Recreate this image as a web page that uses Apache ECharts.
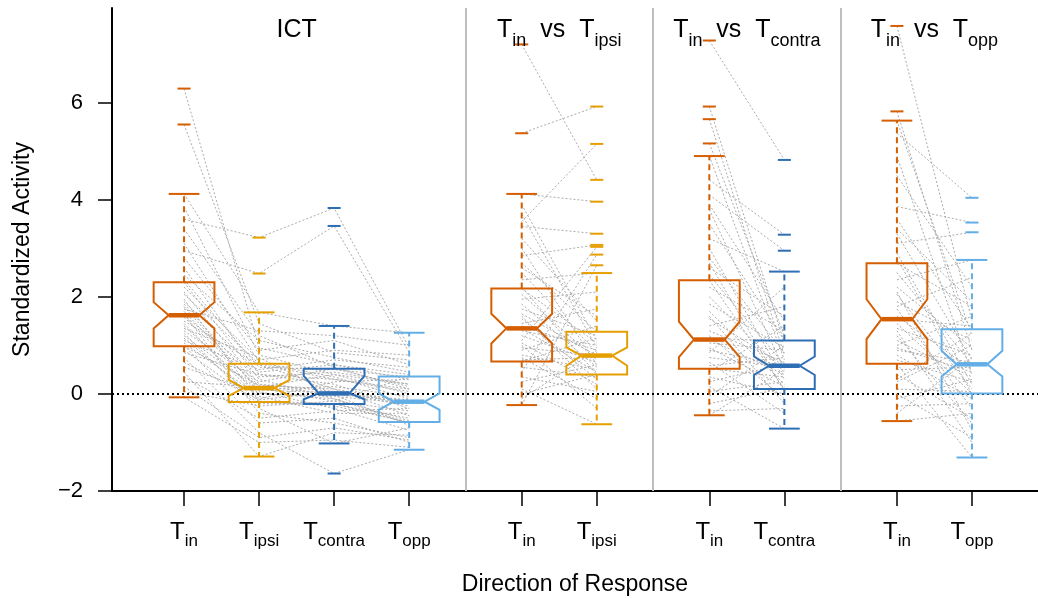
<!DOCTYPE html>
<html><head><meta charset="utf-8">
<script src="https://cdn.jsdelivr.net/npm/echarts@6/dist/echarts.min.js"></script>
<style>html,body{margin:0;padding:0;background:#fff}#chart{width:1038px;height:598px}</style>
</head><body><div id="chart"></div>
<script>
// ---------- data ----------
const conditionSubs = ['in', 'ipsi', 'contra', 'opp'];
const conditionColors = ['#D55E00', '#E69F00', '#2E6EB5', '#63AEE6'];
const panelTitles = ['ICT', 'T_in vs T_ipsi', 'T_in vs T_contra', 'T_in vs T_opp'];
const panelConditions = [[0, 1, 2, 3], [0, 1], [0, 2], [0, 3]];
const yTickValues = [-2, 0, 2, 4, 6];
const yAxisTitle = 'Standardized Activity';
const xAxisTitle = 'Direction of Response';

// box stats: [lowerWhisker, q1, notchLow, median, notchHigh, q3, upperWhisker]
const ictBoxStats = [
  [-0.07, 0.98, 1.35, 1.62, 1.89, 2.30, 4.12],
  [-1.29, -0.165, -0.04, 0.12, 0.29, 0.62, 1.68],
  [-1.02, -0.21, -0.11, 0.01, 0.37, 0.52, 1.40],
  [-1.15, -0.58, -0.33, -0.16, 0.01, 0.36, 1.26]
];
const ipsiBoxStats = [
  [-0.23, 0.67, 1.04, 1.35, 1.65, 2.17, 4.12],
  [-0.625, 0.40, 0.58, 0.79, 0.96, 1.28, 2.49]
];
const contraBoxStats = [
  [-0.44, 0.52, 0.76, 1.12, 1.49, 2.34, 4.90],
  [-0.715, 0.10, 0.39, 0.58, 0.77, 1.10, 2.52]
];
const oppBoxStats = [
  [-0.56, 0.62, 1.13, 1.54, 1.95, 2.69, 5.63],
  [-1.31, 0.01, 0.36, 0.61, 0.89, 1.33, 2.76]
];
const ictOutliers = [[6.29, 5.55], [3.22, 2.48], [3.83, 3.46, -1.64], []];
const ipsiOutliers = [[7.20, 5.37], [5.92, 5.15, 4.41, 3.96, 3.30, 3.07, 3.03, 2.87, 2.65]];
const contraOutliers = [[7.28, 5.92, 5.66, 5.16], [4.82, 3.28, 2.95]];
const oppOutliers = [[7.58, 5.82], [4.04, 3.53, 3.33]];

// paired neuron values: ICT rows [Tin, Tipsi, Tcontra, Topp]
const ictPaired = [
  [6.29, 0.95, 0.60, 0.30], [5.55, 1.45, 0.85, 0.70], [4.12, 1.68, 1.40, 1.26], [3.85, 0.80, 0.40, 0.20],
  [3.60, 3.22, 3.83, 0.95], [3.40, 1.20, 0.55, 0.10], [3.10, 0.65, 0.35, -0.10], [2.95, 2.48, 3.46, 0.85],
  [2.80, 0.90, 1.10, 0.60], [2.60, 0.40, 0.20, -0.30], [2.45, 1.10, 0.75, 0.45], [2.35, 0.55, 0.50, 0.35],
  [2.30, 0.30, -0.10, -0.55], [2.20, 0.70, 0.90, 0.80], [2.10, 0.20, 0.05, -0.20], [2.05, 0.62, 0.30, 0.05],
  [1.95, -0.15, -0.20, -0.60], [1.90, 0.45, 0.60, 0.40], [1.85, 0.15, 0.00, -0.15], [1.80, 0.05, -0.30, -0.75],
  [1.75, 1.30, 1.20, 1.00], [1.70, 0.10, 0.15, -0.05], [1.65, -0.40, -0.60, -0.90], [1.62, 0.35, 0.45, 0.20],
  [1.58, 0.12, -0.15, -0.35], [1.50, 0.60, 0.10, -0.45], [1.45, -0.10, 0.25, 0.30], [1.40, 0.00, -0.05, -0.20],
  [1.30, 0.25, 0.52, 0.15], [1.25, -0.30, -1.02, -0.70], [1.20, 0.08, 0.02, -0.12], [1.15, -0.16, -0.25, -0.58],
  [1.10, 0.50, 0.70, 0.55], [1.05, -0.05, -0.40, -0.40], [1.00, -0.60, -0.50, -1.00], [0.98, 0.18, 0.10, -0.16],
  [0.90, -0.20, -0.21, -0.50], [0.85, 0.40, 0.30, 0.10], [0.75, -0.80, -1.64, -1.15], [0.65, -0.12, 0.05, -0.25],
  [0.55, 0.02, -0.10, -0.60], [0.45, -1.29, -0.80, -0.85], [0.35, -0.50, -0.35, -0.30], [0.25, 0.14, 0.40, 0.00],
  [0.15, -0.90, -0.70, -0.95], [0.05, -0.25, -0.15, 0.36], [-0.07, -1.00, -0.95, -1.10], [1.35, 0.75, -0.02, -0.65]
];
// [Tin, Tipsi]
const ipsiPaired = [
  [7.20, 4.41], [5.37, 5.92], [3.55, 5.15], [4.12, 3.96], [3.90, 1.10], [3.70, 0.95], [3.45, 3.30], [3.20, 1.50],
  [3.00, 0.60], [2.85, 3.07], [2.70, 1.28], [2.50, 0.85], [2.35, 2.49], [2.20, 0.40], [2.17, 1.05], [2.05, 0.70],
  [1.95, 2.10], [1.85, 0.55], [1.75, 1.20], [1.65, 0.79], [1.55, 0.30], [1.45, 1.75], [1.40, 0.90], [1.35, 0.45],
  [1.30, 1.00], [1.20, 0.65], [1.10, 3.03], [1.05, 0.20], [0.95, 0.80], [0.90, 1.40], [0.80, 0.50], [0.75, -0.10],
  [0.70, 0.75], [0.67, 1.15], [0.55, 0.35], [0.45, 2.87], [0.35, 0.05], [0.25, 0.60], [0.10, -0.625], [0.00, 0.40],
  [-0.10, 0.90], [-0.23, 2.65], [1.60, 0.10], [2.60, 1.60], [1.00, -0.30]
];
// [Tin, Tcontra]
const contraPaired = [
  [7.28, 4.82], [5.92, 1.05], [5.66, 0.80], [5.16, 1.20], [4.90, 0.70], [4.41, 3.28], [4.10, 2.95], [3.80, 0.50],
  [3.50, 1.10], [3.20, 2.52], [3.00, 0.30], [2.80, 0.85], [2.60, 1.60], [2.45, 0.60], [2.34, 0.10], [2.20, 1.30],
  [2.00, 0.45], [1.85, 0.95], [1.70, 0.20], [1.55, 0.58], [1.40, 1.80], [1.30, 0.65], [1.20, -0.10], [1.12, 0.40],
  [1.05, 0.90], [0.95, 0.15], [0.85, 2.20], [0.75, 0.55], [0.65, -0.40], [0.58, 0.75], [0.52, 0.35], [0.45, 1.40],
  [0.35, 0.00], [0.25, 0.62], [0.15, -0.715], [0.05, 0.25], [-0.05, 1.00], [-0.20, 0.12], [-0.35, -0.30], [-0.44, 0.50],
  [1.60, -0.20], [2.70, 0.05], [0.90, 0.58], [1.15, 1.08], [3.90, 1.50]
];
// [Tin, Topp]
const oppPaired = [
  [7.58, 1.50], [5.82, 0.90], [5.63, 1.20], [5.37, 4.04], [4.90, 0.40], [4.50, 2.20], [3.86, 3.53], [3.60, 1.33],
  [3.30, 0.70], [3.10, 3.33], [2.90, 0.20], [2.69, 1.80], [2.50, 0.61], [2.35, 2.76], [2.20, 0.95], [2.05, 0.10],
  [1.90, 1.10], [1.75, -0.30], [1.60, 0.50], [1.54, 1.40], [1.45, 0.01], [1.35, 0.80], [1.20, -0.60], [1.10, 0.35],
  [1.00, 1.60], [0.90, 0.65], [0.80, -0.10], [0.70, 0.25], [0.62, -1.31], [0.50, 0.55], [0.40, -0.50], [0.25, 1.00],
  [0.10, 0.05], [0.00, -0.90], [-0.10, 0.30], [-0.25, -0.20], [-0.40, 0.75], [-0.56, -0.40], [1.80, 2.40], [2.80, 0.00],
  [1.30, -1.00], [3.40, 1.90], [0.95, 0.45], [2.10, -0.75], [0.30, 1.25]
];

// ---------- layout ----------
const panelPositions = [[1, 2, 3, 4], [5.5, 6.5], [8, 9], [10.5, 11.5]];
const separators = [4.75, 7.25, 9.75];
const X_MIN = 0.04, X_MAX = 12.38, Y_MIN = -2, Y_MAX = 7.95;
const FONT = '"Liberation Sans", Arial, Helvetica, sans-serif';

const boxStatsByPanel = [ictBoxStats, ipsiBoxStats, contraBoxStats, oppBoxStats];
const outliersByPanel = [ictOutliers, ipsiOutliers, contraOutliers, oppOutliers];
const pairedByPanel = [ictPaired, ipsiPaired, contraPaired, oppPaired];

const boxData = [], outlierData = [], tickValues = [], tickConds = [];
panelConditions.forEach((conds, p) => {
  conds.forEach((c, i) => {
    const x = panelPositions[p][i];
    boxData.push([x].concat(boxStatsByPanel[p][i], [c]));
    outliersByPanel[p][i].forEach(v => outlierData.push([x, v, c]));
    tickValues.push(x);
    tickConds.push(c);
  });
});
const titleData = panelPositions.map((pos, p) => [pos.reduce((a, b) => a + b, 0) / pos.length, p]);

function richTitle(s) {
  return s.split(' vs ').map(part => {
    const m = part.split('_');
    return m.length > 1 ? '{t|' + m[0] + '}{s|' + m[1] + '}' : '{t|' + part + '}';
  }).join('{t|  vs  }');
}

const pairedSeries = pairedByPanel.map((rows, p) => ({
  type: 'custom', silent: true, z: 1, animation: false,
  data: rows,
  renderItem(params, api) {
    const pts = panelPositions[p].map((x, i) => api.coord([x, api.value(i)]));
    return { type: 'polyline', shape: { points: pts },
      style: { stroke: '#ababab', lineWidth: 1, lineDash: [2, 2], fill: null } };
  }
}));

const boxSeries = {
  type: 'custom', silent: true, z: 5, animation: false,
  data: boxData,
  renderItem(params, api) {
    const x = api.value(0);
    const v = [1, 2, 3, 4, 5, 6, 7].map(i => api.value(i));
    const lo = v[0], q1 = v[1], nlo = v[2], med = v[3], nhi = v[4], q3 = v[5], hi = v[6];
    const color = conditionColors[api.value(8)];
    const c = (dx, y) => api.coord([x + dx, y]);
    const HW = 0.405, NW = 0.205, CW = 0.205;
    const pts = [c(-HW, q1), c(-HW, nlo), c(-NW, med), c(-HW, nhi), c(-HW, q3),
                 c(HW, q3), c(HW, nhi), c(NW, med), c(HW, nlo), c(HW, q1)];
    const seg = (a, b, style) => ({ type: 'line', shape: { x1: a[0], y1: a[1], x2: b[0], y2: b[1] }, style });
    return { type: 'group', children: [
      seg(c(0, q3), c(0, hi), { stroke: color, lineWidth: 2, lineDash: [6, 4] }),
      seg(c(0, q1), c(0, lo), { stroke: color, lineWidth: 2, lineDash: [6, 4] }),
      seg(c(-CW, hi), c(CW, hi), { stroke: color, lineWidth: 2 }),
      seg(c(-CW, lo), c(CW, lo), { stroke: color, lineWidth: 2 }),
      { type: 'polygon', shape: { points: pts }, style: { stroke: color, fill: 'none', lineWidth: 2 } },
      seg(c(-NW, med), c(NW, med), { stroke: color, lineWidth: 4.5 })
    ]};
  }
};

const outlierSeries = {
  type: 'custom', silent: true, z: 5, animation: false,
  data: outlierData,
  renderItem(params, api) {
    const x = api.value(0), y = api.value(1);
    const a = api.coord([x - 0.087, y]), b = api.coord([x + 0.087, y]);
    return { type: 'line', shape: { x1: a[0], y1: a[1], x2: b[0], y2: b[1] },
      style: { stroke: conditionColors[api.value(2)], lineWidth: 2 } };
  }
};

const titleSeries = {
  type: 'custom', silent: true, z: 6, animation: false, clip: false,
  data: titleData,
  renderItem(params, api) {
    const pt = api.coord([api.value(0), Y_MAX]);
    return { type: 'text', x: pt[0], y: pt[1] + 26,
      style: { text: richTitle(panelTitles[api.value(1)]), align: 'center', verticalAlign: 'middle',
        fill: '#000', fontFamily: FONT,
        rich: {
          t: { fontSize: 25, fontFamily: FONT, fill: '#000', lineHeight: 32, verticalAlign: 'top' },
          s: { fontSize: 18, fontFamily: FONT, fill: '#000', lineHeight: 21, verticalAlign: 'bottom' }
        } } };
  }
};

const refSeries = {
  type: 'line', data: [], z: 0, silent: true, animation: false,
  markLine: { silent: true, symbol: 'none', animation: false, label: { show: false },
    data: separators.map(s => ({ xAxis: s, lineStyle: { color: '#bebebe', width: 2, type: 'solid' } })) }
};
const zeroSeries = {
  type: 'line', data: [], z: 10, silent: true, animation: false,
  markLine: { silent: true, symbol: 'none', animation: false, label: { show: false },
    data: [{ yAxis: 0, lineStyle: { color: '#000', width: 2, type: [2, 3] } }] }
};

const chart = echarts.init(document.getElementById('chart'), null, { renderer: 'canvas' });
chart.setOption({
  animation: false,
  backgroundColor: '#fff',
  textStyle: { fontFamily: FONT },
  grid: { left: 112, right: 0, top: 8, bottom: 107, containLabel: false, outerBoundsMode: 'none' },
  xAxis: {
    type: 'value', min: X_MIN, max: X_MAX,
    name: xAxisTitle, nameLocation: 'middle', nameGap: 82,
    nameTextStyle: { fontSize: 23, color: '#000', fontFamily: FONT },
    axisLine: { show: true, onZero: false, lineStyle: { color: '#000', width: 2 } },
    axisTick: { show: true, length: 15, customValues: tickValues, lineStyle: { color: '#000', width: 1.5 } },
    axisLabel: {
      customValues: tickValues, margin: 29, color: '#000',
      formatter: (val) => {
        const idx = tickValues.findIndex(t => Math.abs(t - val) < 1e-6);
        return idx < 0 ? '' : '{t|T}{s|' + conditionSubs[tickConds[idx]] + '}';
      },
      rich: {
        t: { fontSize: 24, fontFamily: FONT, color: '#000', lineHeight: 30, verticalAlign: 'top' },
        s: { fontSize: 17, fontFamily: FONT, color: '#000', lineHeight: 17, verticalAlign: 'bottom' }
      }
    },
    splitLine: { show: false }
  },
  yAxis: {
    type: 'value', min: Y_MIN, max: Y_MAX,
    name: yAxisTitle, nameLocation: 'middle', nameGap: 78,
    nameTextStyle: { fontSize: 23, color: '#000', fontFamily: FONT },
    axisLine: { show: true, onZero: false, lineStyle: { color: '#000', width: 2 } },
    axisTick: { show: true, length: 14, customValues: yTickValues, lineStyle: { color: '#000', width: 1.5 } },
    axisLabel: { customValues: yTickValues, margin: 29, fontSize: 22, color: '#000', fontFamily: FONT,
      formatter: v => v < 0 ? '\u2212' + Math.abs(v) : String(v) },
    splitLine: { show: false }
  },
  series: [refSeries].concat(pairedSeries, [boxSeries, outlierSeries, zeroSeries, titleSeries])
});
</script></body></html>
